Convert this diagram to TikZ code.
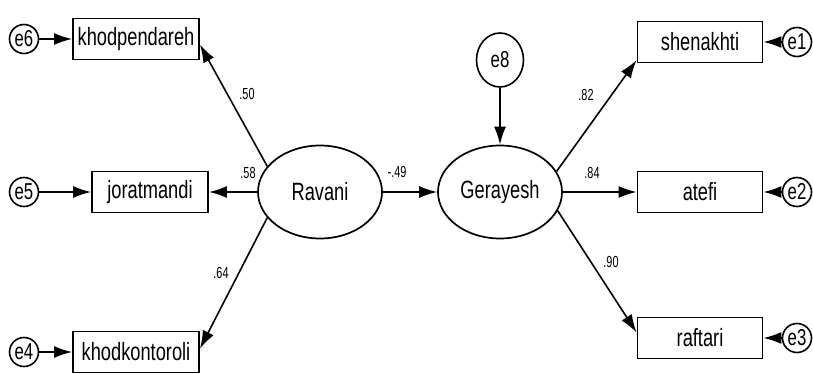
\documentclass[tikz,border=0pt]{standalone}
\usepackage{fontspec}
\newfontfamily\amosfont[FakeStretch=0.73]{Liberation Sans}
\newfontfamily\coeffont[FakeStretch=0.68]{Liberation Sans}
\usetikzlibrary{shapes.geometric,arrows.meta}
\begin{document}
\begin{tikzpicture}[x=1pt,y=-1pt,
		obs/.style={draw, line width=1.9pt, minimum height=41pt, inner sep=0pt, font=\amosfont\fontsize{25}{28}\selectfont},
		lat/.style={ellipse, draw, line width=1.7pt, minimum width=124pt, minimum height=93pt, inner sep=0pt, font=\amosfont\fontsize{25}{28}\selectfont},
		err/.style={circle, draw, line width=1.6pt, minimum size=29pt, inner sep=0pt, font=\amosfont\fontsize{23}{26}\selectfont},
		coef/.style={inner sep=0pt, font=\coeffont\fontsize{16}{18}\selectfont},
		arr/.style={line width=1.6pt, -{Latex[length=18pt,width=12pt]}}]
			\useasboundingbox (0,0) rectangle (813,374);

			\draw node[lat] (rav) at (320,192) {Ravani};
			\draw node[lat] (ger) at (500,192) {Gerayesh};
			\draw node[ellipse, draw, line width=1.6pt, minimum width=47pt, minimum height=54pt, inner sep=0pt, font=\amosfont\fontsize{23}{26}\selectfont] (e8) at (500,60) {e8};

			\draw node[obs, minimum width=126pt] (khod) at (136,39) {khodpendareh};
			\draw node[obs, minimum width=116pt] (jor) at (150,192) {joratmandi};
			\draw node[obs, minimum width=126pt] (kk) at (136,352) {khodkontoroli};
			\draw node[obs, minimum width=125pt] (shen) at (700,42) {shenakhti};
			\draw node[obs, minimum width=125pt] (atefi) at (700,192) {atefi};
			\draw node[obs, minimum width=125pt] (raf) at (700,338) {raftari};

			\draw node[err] (e6) at (24,39) {e6};
			\draw node[err] (e5) at (24,192) {e5};
			\draw node[err] (e4) at (24,352) {e4};
			\draw node[err] (e1) at (797,42) {e1};
			\draw node[err] (e2) at (797,192) {e2};
			\draw node[err] (e3) at (797,338) {e3};

			\draw[arr] (rav.154) -- (khod.-5);
			\draw[arr] (rav) -- (jor);
			\draw[arr] (rav.206) -- (kk.3);
			\draw[arr] (rav) -- (ger);
			\draw[arr] (e8) -- (ger);
			\draw[arr] (ger.20) -- (shen.196);
			\draw[arr] (ger) -- (atefi);
			\draw[arr] (ger.-18) -- (raf.175);

			\draw[arr] (e6) -- (khod);
			\draw[arr] (e5) -- (jor);
			\draw[arr] (e4) -- (kk);
			\draw[arr] (e1) -- (shen);
			\draw[arr] (e2) -- (atefi);
			\draw[arr] (e3) -- (raf);

			\draw node[coef] (c50) at (247,94) {.50};
			\draw node[coef] (c58) at (248,173) {.58};
			\draw node[coef] (c64) at (221,273) {.64};
			\draw node[coef] (c49) at (397,172) {-.49};
			\draw node[coef] (c82) at (586,95) {.82};
			\draw node[coef] (c84) at (592,173) {.84};
			\draw node[coef] (c90) at (611,262) {.90};
		\end{tikzpicture}
\end{document}
